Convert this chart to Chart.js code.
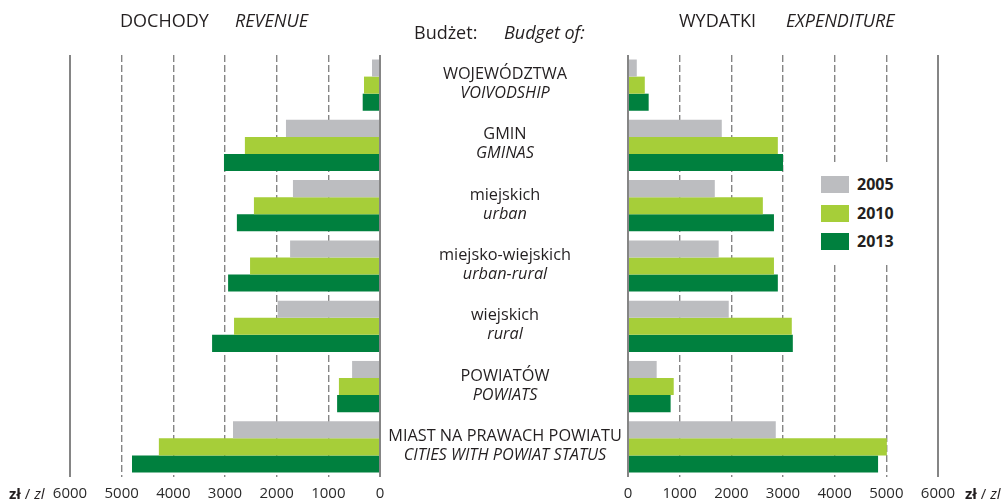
<!DOCTYPE html>
<html lang="pl">
<head>
<meta charset="utf-8">
<script src="https://cdn.jsdelivr.net/npm/chart.js@4/dist/chart.umd.min.js"></script>
<style>
  html, body { margin: 0; padding: 0; background: #fff; overflow: hidden; }
  body { font-family: "Open Sans", sans-serif; color: #231f20; }
  #wrap { position: relative; width: 1006px; height: 501px; }
  canvas { position: absolute; left: 0; top: 0; }
  .txt { position: absolute; white-space: nowrap; line-height: 1; }
  .title { font-size: 18px; }
  .it { font-style: italic; }
  .unit { font-size: 15px; color: #231f20; }
  .unit b { font-weight: 700; }
  .cat { position: absolute; left: 380px; width: 250px; text-align: center; font-size: 16.3px; line-height: 19px; transform: translateY(-50%); }
  #legend { position: absolute; left: 808px; top: 162px; width: 108px; height: 101px; background: #fff; }
  .leg-item { position: absolute; left: 13px; height: 17px; }
  .leg-sw { position: absolute; left: 0; top: 0; width: 28px; height: 17px; }
  .leg-tx { position: absolute; left: 36px; top: -1px; font-size: 16px; font-weight: 700; line-height: 19px; }
</style>
</head>
<body>
<div id="wrap">
  <canvas id="revenue" width="1006" height="501"></canvas>
  <canvas id="expenditure" width="1006" height="501"></canvas>

  <div class="txt title" style="left:120px; top:11px">DOCHODY</div>
  <div class="txt title it" style="left:235px; top:11px">REVENUE</div>
  <div class="txt title" style="left:414px; top:23px">Budżet:</div>
  <div class="txt title it" style="left:504px; top:23px">Budget of:</div>
  <div class="txt title" style="left:679px; top:11px">WYDATKI</div>
  <div class="txt title it" style="left:786px; top:11px">EXPENDITURE</div>

  <div class="txt unit" style="left:9px; top:486px"><b>zł</b> / <span class="it">zl</span></div>
  <div class="txt unit" style="left:965px; top:486px"><b>zł</b> / <span class="it">zl</span></div>

  <div id="legend"></div>
</div>

<script>
const CATEGORIES_PL = ["WOJEWÓDZTWA", "GMIN", "miejskich", "miejsko-wiejskich", "wiejskich", "POWIATÓW", "MIAST NA PRAWACH POWIATU"];
const CATEGORIES_EN = ["VOIVODSHIP", "GMINAS", "urban", "urban-rural", "rural", "POWIATS", "CITIES WITH POWIAT STATUS"];
const YEARS = ["2005", "2010", "2013"];

// zł per capita
const revenue2005 = [155, 1820, 1685, 1740, 1980, 540, 2845];
const revenue2010 = [310, 2615, 2440, 2515, 2825, 795, 4280];
const revenue2013 = [335, 3020, 2770, 2940, 3250, 830, 4800];

const expenditure2005 = [170, 1815, 1680, 1755, 1950, 555, 2860];
const expenditure2010 = [325, 2900, 2610, 2825, 3170, 885, 5010];
const expenditure2013 = [400, 3000, 2825, 2900, 3190, 825, 4840];

const X_MAX = 6000;
const X_STEP = 1000;

const YEAR_COLORS = ["#bcbdc0", "#a6ce39", "#00803e"];
const GRID_COLOR = "#858585";
const TICK_COLOR = "#2b2b2b";
const FONT = "'Open Sans', sans-serif";

const isEdge = (c) => c.tick && (c.tick.value === 0 || c.tick.value === X_MAX);

function buildChart(canvasId, series, reverse, padLeft, padRight) {
  return new Chart(document.getElementById(canvasId), {
    type: "bar",
    data: {
      labels: CATEGORIES_PL,
      datasets: YEARS.map((year, i) => ({
        label: year,
        data: series[i],
        backgroundColor: YEAR_COLORS[i],
        borderWidth: 0,
        categoryPercentage: 0.85,
        barPercentage: 1,
      })),
    },
    options: {
      indexAxis: "y",
      responsive: false,
      animation: false,
      layout: { padding: { top: 55, bottom: 0, left: padLeft, right: padRight } },
      plugins: { legend: { display: false }, tooltip: { enabled: false } },
      scales: {
        y: { display: false },
        x: {
          min: 0,
          max: X_MAX,
          reverse: reverse,
          afterFit: (scale) => { scale.height = 24; },
          ticks: {
            stepSize: X_STEP,
            padding: 8,
            color: TICK_COLOR,
            font: { family: FONT, size: 15 },
            callback: (v) => String(v),
          },
          grid: {
            drawTicks: false,
            color: GRID_COLOR,
            lineWidth: (c) => (isEdge(c) ? 2 : 1.4),
          },
          border: { display: false, dash: (c) => (isEdge(c) ? [] : [7, 3]) },
        },
      },
    },
  });
}

const revenueChart = buildChart("revenue", [revenue2005, revenue2010, revenue2013], true, 70, 626);
const expenditureChart = buildChart("expenditure", [expenditure2005, expenditure2010, expenditure2013], false, 628, 68);

// category names in the middle, placed on the library's category scale
const wrap = document.getElementById("wrap");
const yScale = revenueChart.scales.y;
CATEGORIES_PL.forEach((pl, i) => {
  const div = document.createElement("div");
  div.className = "cat";
  div.style.top = (yScale.getPixelForValue(i) - 2) + "px";
  div.innerHTML = `${pl}<br><span class="it">${CATEGORIES_EN[i]}</span>`;
  wrap.appendChild(div);
});

// legend
const legend = document.getElementById("legend");
legend.innerHTML = expenditureChart.data.datasets
  .map((ds, i) => `
    <div class="leg-item" style="top:${14 + i * 28.5}px">
      <div class="leg-sw" style="background:${ds.backgroundColor}"></div>
      <div class="leg-tx">${ds.label}</div>
    </div>`)
  .join("");
</script>
</body>
</html>
